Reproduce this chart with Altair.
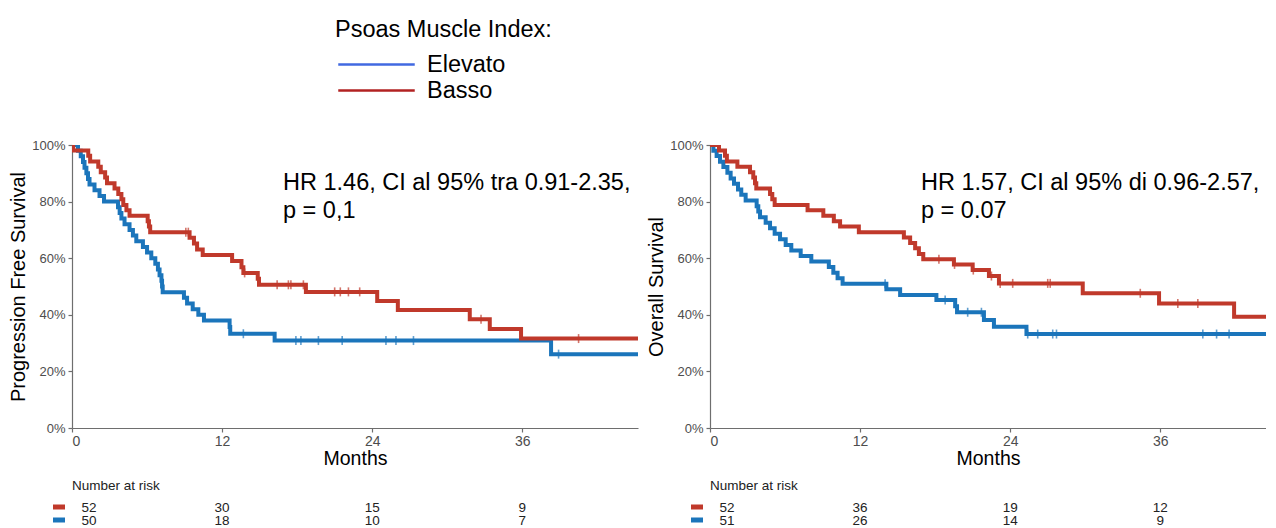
import altair as alt
import pandas as pd

FONT = "Liberation Sans, Arial, Helvetica, sans-serif"
RED = "#C0392B"
BLUE = "#1B75BB"
LEG_BLUE = "#4169E1"
LEG_RED = "#B22222"
AXIS_GRAY = "#6E6E6E"
LABEL_GRAY = "#4D4D4D"

PX_PER_MONTH = 566 / 45.25
GROUPS = ["Elevato", "Basso"]
x_ticks = [0, 12, 24, 36]
y_ticks = [0, 0.2, 0.4, 0.6, 0.8, 1.0]

# ---------------- Progression Free Survival ----------------
pfs_basso_t = [0, 0.1, 1.3, 1.45, 2.1, 2.3, 2.65, 2.8, 3.4, 3.7, 3.95, 4.1, 4.35, 4.6,
               6.05, 6.15, 6.25, 9.4, 9.75, 10.0, 10.45, 12.8, 13.55, 13.7, 14.85, 14.95,
               18.7, 24.4, 26.05, 31.8, 33.4, 35.9]
pfs_basso_s = [1.0, 0.981, 0.962, 0.942, 0.923, 0.904, 0.885, 0.865, 0.846, 0.827, 0.808,
               0.788, 0.769, 0.750, 0.731, 0.712, 0.692, 0.672, 0.652, 0.631, 0.611, 0.590,
               0.568, 0.548, 0.527, 0.506, 0.481, 0.449, 0.417, 0.384, 0.350, 0.316]
pfs_basso_cens = [9.1, 9.3, 13.8, 16.4, 17.3, 17.5, 18.5, 21.0, 21.45, 22.1, 23.0, 32.7, 40.5]

pfs_elev_t = [0, 0.48, 0.7, 0.88, 1.0, 1.15, 1.28, 1.4, 1.8, 2.2, 2.56, 3.68, 3.81, 3.95,
              4.2, 4.6, 4.87, 5.14, 5.67, 6.0, 6.34, 6.66, 6.87, 7.0, 7.15, 7.2, 7.25,
              8.95, 9.2, 9.65, 10.1, 10.55, 12.6, 12.65, 16.2, 38.3]
pfs_elev_s = [1.0, 0.98, 0.96, 0.94, 0.92, 0.90, 0.88, 0.86, 0.84, 0.82, 0.80, 0.78, 0.76,
              0.74, 0.72, 0.70, 0.68, 0.66, 0.64, 0.62, 0.60, 0.58, 0.56, 0.54, 0.52, 0.50,
              0.48, 0.46, 0.44, 0.42, 0.40, 0.38, 0.357, 0.333, 0.309, 0.261]
pfs_elev_cens = [13.7, 17.9, 18.3, 19.7, 21.6, 25.1, 25.9, 27.3, 38.9]

pfs_risk_basso = [52, 30, 15, 9]
pfs_risk_elev = [50, 18, 10, 7]

# ---------------- Overall Survival ----------------
os_basso_t = [0, 0.72, 1.2, 1.35, 2.19, 3.2, 3.46, 3.6, 3.7, 4.8, 4.98, 5.17, 7.8, 9.06,
              9.9, 10.4, 11.9, 15.5, 16.0, 16.4, 16.7, 17.05, 19.5, 21.0, 22.3, 23.1,
              29.8, 35.9, 41.9]
os_basso_s = [1.0, 0.981, 0.962, 0.942, 0.923, 0.904, 0.885, 0.865, 0.846, 0.827, 0.808,
              0.788, 0.769, 0.750, 0.731, 0.712, 0.692, 0.673, 0.654, 0.635, 0.615, 0.596,
              0.578, 0.558, 0.537, 0.511, 0.476, 0.440, 0.393]
os_basso_cens = [18.3, 19.55, 21.05, 22.5, 23.2, 24.2, 27.0, 27.2, 34.4, 37.4, 39.0]

os_elev_t = [0, 0.27, 0.53, 0.8, 1.07, 1.39, 1.65, 1.92, 2.24, 2.5, 2.85, 3.73, 3.86, 4.0,
             4.45, 4.8, 5.17, 5.6, 6.05, 6.5, 7.25, 8.1, 9.5, 9.86, 10.2, 10.6, 14.1, 15.2,
             18.1, 19.6, 19.75, 21.9, 22.7, 25.3, 45.0]
os_elev_s = [1.0, 0.980, 0.961, 0.941, 0.922, 0.902, 0.882, 0.863, 0.843, 0.824, 0.804,
             0.784, 0.765, 0.745, 0.725, 0.706, 0.686, 0.667, 0.647, 0.627, 0.608, 0.588,
             0.569, 0.549, 0.529, 0.510, 0.490, 0.470, 0.452, 0.430, 0.409, 0.382, 0.358,
             0.332, 0.280]
os_elev_cens = [14.0, 18.8, 20.6, 21.7, 25.4, 26.2, 27.4, 27.7, 39.4, 40.5, 41.5]

os_risk_basso = [52, 36, 19, 12]
os_risk_elev = [51, 26, 14, 9]

pfs_hr = ["HR 1.46, CI al 95% tra 0.91-2.35,", "p = 0,1"]
os_hr = ["HR 1.57, CI al 95% di 0.96-2.57,", "p = 0.07"]


def step_frame(times, survs, group, xmax):
    rows = [{"t": t, "s": s, "group": group} for t, s in zip(times, survs)]
    rows.append({"t": max(xmax, times[-1]), "s": survs[-1], "group": group})
    return pd.DataFrame(rows)


def cens_frame(times, survs, cens, group):
    rows = []
    for c in cens:
        level = survs[0]
        for t, s in zip(times, survs):
            if t <= c:
                level = s
        rows.append({"t": c, "s": level, "group": group})
    return pd.DataFrame(rows)


def panel(basso, elev, risk_b, risk_e, ytitle, hr, with_legend, width):
    xmax = width / PX_PER_MONTH
    xenc = alt.X("t:Q", scale=alt.Scale(domain=[0, xmax], nice=False),
                 axis=alt.Axis(values=x_ticks, format="d", title="Months",
                               labelFontSize=14, titleFontSize=19.5, tickSize=4,
                               labelPadding=2, titlePadding=1))
    yenc = alt.Y("s:Q", scale=alt.Scale(domain=[0, 1], nice=False),
                 axis=alt.Axis(values=y_ticks, format=".0%", title=ytitle,
                               labelFontSize=13, titleFontSize=20, tickSize=4,
                               labelPadding=3, titlePadding=3))
    cscale = alt.Scale(domain=GROUPS, range=[BLUE, RED])

    layers = []
    for (t, s, cens, grp) in [elev + ("Elevato",), basso + ("Basso",)]:
        layers.append(
            alt.Chart(step_frame(t, s, grp, xmax)).mark_line(
                interpolate="step-after", strokeWidth=4, clip=True
            ).encode(x=xenc, y=yenc,
                     color=alt.Color("group:N", scale=cscale, legend=None))
        )
        layers.append(
            alt.Chart(cens_frame(t, s, cens, grp)).mark_tick(
                orient="vertical", size=9, thickness=1.6, clip=True
            ).encode(x=xenc, y=yenc,
                     color=alt.Color("group:N", scale=cscale, legend=None))
        )
    km = alt.layer(*layers)

    one = pd.DataFrame({"k": [0]})
    extra = []
    extra.append(
        alt.Chart(one).mark_text(text=hr, align="left", baseline="alphabetic",
                                 fontSize=23.5, lineHeight=28.5, color="black")
        .encode(x=alt.value(211), y=alt.value(44.5))
    )
    extra.append(
        alt.Chart(one).mark_text(text="Number at risk", align="left", baseline="middle",
                                 fontSize=13.5, color="#222222")
        .encode(x=alt.value(0), y=alt.value(341))
    )
    risk_rows = [("Basso", risk_b, RED, 363), ("Elevato", risk_e, BLUE, 376)]
    for grp, counts, col, ypix in risk_rows:
        rdf = pd.DataFrame({"time": x_ticks, "n": counts})
        extra.append(
            alt.Chart(one).mark_rule(strokeWidth=5, color=col)
            .encode(x=alt.value(-19), x2=alt.value(-7), y=alt.value(ypix - 1))
        )
        extra.append(
            alt.Chart(rdf).transform_filter("datum.time == 0")
            .mark_text(align="center", baseline="middle", fontSize=13.5, dx=17, color="#222222")
            .encode(x=alt.X("time:Q"), y=alt.value(ypix), text="n:Q")
        )
        extra.append(
            alt.Chart(rdf).transform_filter("datum.time > 0")
            .mark_text(align="center", baseline="middle", fontSize=13.5, color="#222222")
            .encode(x=alt.X("time:Q"), y=alt.value(ypix), text="n:Q")
        )

    parts = [km] + extra
    if with_legend:
        leg_df = pd.DataFrame({"grp": GROUPS})
        parts.append(
            alt.Chart(leg_df).mark_line(strokeWidth=2.5).encode(
                x=alt.value(0), y=alt.value(0),
                color=alt.Color(
                    "grp:N",
                    scale=alt.Scale(domain=GROUPS, range=[LEG_BLUE, LEG_RED]),
                    legend=alt.Legend(
                        title="Psoas Muscle Index:", orient="none",
                        legendX=263, legendY=-127, padding=0, titleLimit=500,
                        titleFontSize=23.5, titleFontWeight="normal", titleColor="black",
                        titlePadding=10, labelFontSize=23.5, labelColor="black",
                        symbolType="stroke", symbolSize=5850, symbolStrokeWidth=2.5,
                        symbolOffset=2, labelOffset=11, clipHeight=26, rowPadding=0,
                    ),
                ),
            )
        )
    ch = alt.layer(*parts).resolve_scale(color="independent")
    return ch.properties(width=width, height=283)


left = panel((pfs_basso_t, pfs_basso_s, pfs_basso_cens),
             (pfs_elev_t, pfs_elev_s, pfs_elev_cens),
             pfs_risk_basso, pfs_risk_elev, "Progression Free Survival", pfs_hr, True, 566)
right = panel((os_basso_t, os_basso_s, os_basso_cens),
              (os_elev_t, os_elev_s, os_elev_cens),
              os_risk_basso, os_risk_elev, "Overall Survival", os_hr, False, 556)

chart = (
    alt.hconcat(left, right, spacing=8)
    .properties(padding={"left": 0, "top": 10, "right": 0, "bottom": 0})
    .configure(font=FONT)
    .configure_view(stroke=None)
    .configure_axis(grid=False, domainColor=AXIS_GRAY, tickColor=AXIS_GRAY,
                    labelColor=LABEL_GRAY, titleColor="black", titleFontWeight="normal",
                    domainWidth=1.2, tickWidth=1.2)
)

chart.save("out.html", embed_options={"renderer": "svg", "actions": False})
